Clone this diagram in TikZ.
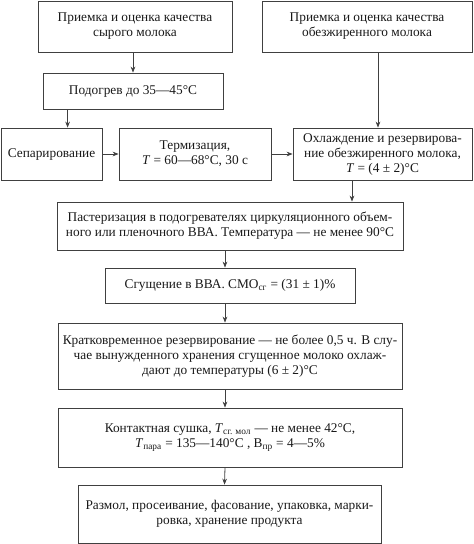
\documentclass[tikz,border=0pt]{standalone}
\usepackage{fontspec}
\setmainfont{Liberation Serif}
\usetikzlibrary{arrows.meta,calc}

\begin{document}
\begin{tikzpicture}[x=0.75pt, y=-0.75pt,
	blok/.style={draw=black!75, line width=0.6pt, align=center, inner sep=0pt,
		font=\fontsize{10}{11.25}\selectfont, text=black!90},
	strelka/.style={draw=black!75, line width=0.6pt, -{Stealth[length=4.5pt, width=3.5pt]}}]
	\useasboundingbox (0, 0) rectangle (474, 544);
	\node[blok, minimum width=145.5pt, minimum height=38.25pt](priem1) at (135, 26.5){Приемка и оценка качества\\сырого молока};
	\node[blok, minimum width=157.5pt, minimum height=38.25pt](priem2) at (367, 26.5){Приемка и оценка качества\\обезжиренного молока};
	\node[blok, minimum width=135pt, minimum height=27pt](podogrev) at (133, 91){Подогрев до 35—45°C};
	\node[blok, minimum width=75.75pt, minimum height=39pt](separ) at (51.5, 154){Сепарирование};
	\node[blok, minimum width=114pt, minimum height=39pt](termiz) at (195, 154){Термизация,\\\textit{T} = 60—68°C, 30 с};
	\node[blok, minimum width=134.25pt, minimum height=39pt](ohlazhd) at (382.5, 154){Охлаждение и резервирова-\\ние обезжиренного молока,\\\textit{T} = (4 ± 2)°C};
	\node[blok, minimum width=259.5pt, minimum height=36pt](paster) at (230, 226){Пастеризация в подогревателях циркуляционного объем-\\ного или пленочного ВВА. Температура — не менее 90°C};
	\node[blok, minimum width=187.5pt, minimum height=26.25pt](sgusch) at (230, 285.5){Сгущение в ВВА. СМО\textsubscript{сг} = (31 ± 1)\%};
	\node[blok, minimum width=258pt, minimum height=49.5pt](kratk) at (230, 356){Кратковременное резервирование — не более 0,5 ч. В слу-\\чае вынужденного хранения сгущенное молоко охлаж-\\дают до температуры (6 ± 2)°C};
	\node[blok, minimum width=258pt, minimum height=44.25pt](kontakt) at (230, 437.5){Контактная сушка, \textit{T}\textsubscript{сг. мол} — не менее 42°C,\\\textit{T}\textsubscript{пара} = 135—140°C , В\textsubscript{пр} = 4—5\%};
	\node[blok, minimum width=227.25pt, minimum height=43.5pt](razmol) at (229.5, 514){Размол, просеивание, фасование, упаковка, марки-\\ровка, хранение продукта};
	% strelki
	\draw[strelka] (priem1.south -| podogrev.north) -- (podogrev.north);
	\draw[strelka] ($(podogrev.south west)+(25,0)$) coordinate (p) -- (p |- separ.north);
	\draw[strelka] (separ.east) -- (termiz.west);
	\draw[strelka] (termiz.east) -- (ohlazhd.west);
	\draw[strelka] ($(priem2.south)+(11,0)$) coordinate (q) -- (q |- ohlazhd.north);
	\draw[strelka] ($(ohlazhd.south)+(-30.5,0)$) coordinate (r) -- (r |- paster.north);
	\foreach \a/\b in {paster/sgusch, sgusch/kratk, kratk/kontakt, kontakt/razmol}
		\draw[strelka] ($(\a.south)+(-5,0)$) -- ($(\b.north)+(-5,0)$);
\end{tikzpicture}
\end{document}
